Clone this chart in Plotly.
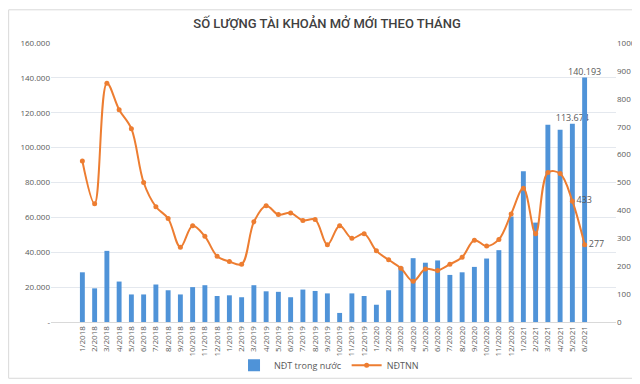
import plotly.graph_objects as go

months = ["1/2018","2/2018","3/2018","4/2018","5/2018","6/2018","7/2018","8/2018","9/2018","10/2018","11/2018","12/2018",
          "1/2019","2/2019","3/2019","4/2019","5/2019","6/2019","7/2019","8/2019","9/2019","10/2019","11/2019","12/2019",
          "1/2020","2/2020","3/2020","4/2020","5/2020","6/2020","7/2020","8/2020","9/2020","10/2020","11/2020","12/2020",
          "1/2021","2/2021","3/2021","4/2021","5/2021","6/2021"]

ndt_trong_nuoc = [28500, 19300, 40800, 23200, 15800, 15800, 21500, 18200, 15800, 20000, 21100, 14900,
                  15300, 14200, 21100, 17600, 17300, 14200, 18600, 17800, 16400, 5200, 16400, 14900,
                  9900, 18200, 31600, 36600, 34000, 35300, 27000, 28500, 31600, 36400, 41200, 60500,
                  86400, 57000, 113100, 110200, 113674, 140193]

ndtnn = [577, 424, 856, 761, 693, 500, 413, 371, 268, 345, 307, 236,
         217, 207, 359, 417, 385, 391, 364, 367, 277, 345, 300, 316,
         255, 223, 193, 146, 190, 185, 207, 232, 293, 272, 296, 387,
         479, 316, 536, 532, 433, 277]

bar_labels = ["" for _ in months]
bar_labels[-2] = "113.674"
bar_labels[-1] = "140.193"
line_labels = ["" for _ in months]
line_labels[-2] = "433"
line_labels[-1] = "277"

left_ticks = [0, 20000, 40000, 60000, 80000, 100000, 120000, 140000, 160000]
left_ticktext = ["-", "20.000", "40.000", "60.000", "80.000", "100.000", "120.000", "140.000", "160.000"]

gray = "#595959"
font_family = "Open Sans, Liberation Sans, sans-serif"

fig = go.Figure()
fig.add_trace(go.Bar(
    x=months, y=ndt_trong_nuoc, name="NĐT trong nước",
    marker=dict(color="#4F93D8", line=dict(width=0)),
    width=0.4,
    text=bar_labels, textposition="outside", cliponaxis=False,
    constraintext="none",
    textfont=dict(size=9, color=gray),
))
fig.add_trace(go.Scatter(
    x=months, y=ndtnn, name="NĐTNN", yaxis="y2",
    mode="lines+markers+text",
    line=dict(color="#ED7D31", width=2, shape="spline", smoothing=1.0),
    marker=dict(color="#ED7D31", size=5),
    text=line_labels, textposition="middle right",
    textfont=dict(size=9, color=gray), cliponaxis=False,
))

W, H = 640, 384
L, R, T, B = 43, 30, 35, 59
pw, ph = W - L - R, H - T - B

fig.update_layout(
    width=W, height=H,
    margin=dict(l=L, r=R, t=T, b=B),
    paper_bgcolor="white", plot_bgcolor="white",
    font=dict(family=font_family, size=8, color=gray),
    title=dict(text="SỐ LƯỢNG TÀI KHOẢN MỞ MỚI THEO THÁNG", x=(320 - L) / pw, xref="paper", xanchor="center",
               y=1 - 15 / H, yanchor="middle",
               font=dict(size=13, color="#404040", family="Roboto, Open Sans, sans-serif", weight=500)),
    bargap=0.6,
    showlegend=True,
    legend=dict(orientation="h", x=(322 - L) / pw, xanchor="center",
                y=(H - B - 370) / ph, yanchor="middle",
                font=dict(size=9, color=gray), bgcolor="rgba(0,0,0,0)"),
    xaxis=dict(type="category", tickangle=-90, showgrid=False, showline=True,
               linecolor="#D9D9D9", ticks="", tickfont=dict(size=8, color=gray)),
    yaxis=dict(range=[0, 160000], tickvals=left_ticks, ticktext=left_ticktext,
               showgrid=True, gridcolor="#E4E8EE", zeroline=False,
               tickfont=dict(size=8, color=gray), ticks=""),
    yaxis2=dict(range=[0, 1000], dtick=100, overlaying="y", side="right",
                showgrid=False, zeroline=False, tickfont=dict(size=8, color=gray), ticks=""),
    shapes=[dict(type="rect", xref="paper", yref="paper",
                 x0=(0.5 - L) / pw, x1=(W - 0.5 - L) / pw,
                 y0=(H - B - (H - 0.5)) / ph, y1=(H - B - 0.5) / ph,
                 line=dict(color="#D9D9D9", width=1), layer="below")],
)

fig.write_html("out.html")
